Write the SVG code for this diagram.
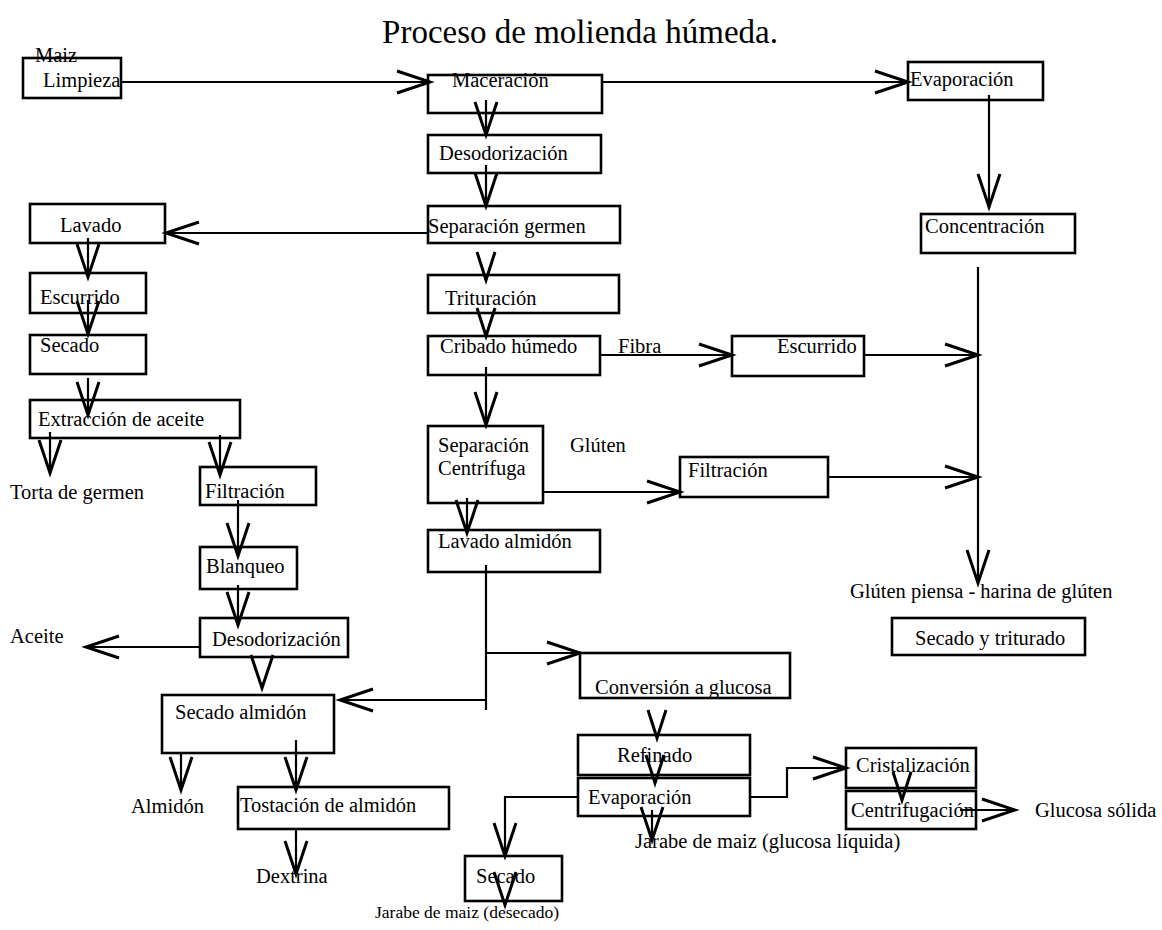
<svg xmlns="http://www.w3.org/2000/svg" width="1162" height="930" viewBox="0 0 1162 930">
<style>
text{font-family:"Liberation Serif","Times New Roman",serif;font-size:20.5px;fill:#000}
.t{font-size:33px}
.sm{font-size:17.5px}
rect{fill:none;stroke:#000;stroke-width:2.6}
.c line,.c path{fill:none;stroke:#000;stroke-width:2.2}
.a{marker-end:url(#ah)}
.s{marker-end:url(#as)}
</style>
<defs>
<marker id="ah" markerUnits="userSpaceOnUse" markerWidth="80" markerHeight="80" refX="0" refY="0" viewBox="-40 -40 80 80" orient="auto" overflow="visible">
<path d="M-33,-11 L0,0 L-33,11" fill="none" stroke="#000" stroke-width="3"/>
</marker>
<marker id="as" markerUnits="userSpaceOnUse" markerWidth="80" markerHeight="80" refX="0" refY="0" viewBox="-40 -40 80 80" orient="auto" overflow="visible">
<path d="M-28,-9 L0,0 L-28,9" fill="none" stroke="#000" stroke-width="3"/>
</marker>
</defs>
<rect x="0" y="0" width="1162" height="930" style="fill:#fff;stroke:none"/>
<text class="t" x="580" y="43" text-anchor="middle">Proceso de molienda húmeda.</text>

<g class="c" id="connectors">
<line class="a" x1="121" y1="82" x2="430" y2="82"/>
<line class="a" x1="602" y1="82" x2="908" y2="82"/>
<line class="a" x1="989" y1="95" x2="989" y2="207"/>
<line class="a" x1="486" y1="100" x2="486" y2="135"/>
<line class="a" x1="486" y1="165" x2="486" y2="206"/>
<line class="a" x1="428" y1="233" x2="166" y2="233"/>
<line class="s" x1="486" y1="277" x2="486" y2="280"/>
<line class="a" x1="88" y1="238" x2="88" y2="277"/>
<line class="a" x1="88" y1="300" x2="88" y2="334"/>
<line class="a" x1="88" y1="378" x2="88" y2="415"/>
<line class="a" x1="50" y1="432" x2="50" y2="473"/>
<line class="a" x1="220" y1="435" x2="220" y2="475"/>
<line class="a" x1="238" y1="500" x2="238" y2="556"/>
<line class="a" x1="238" y1="585" x2="238" y2="625"/>
<line class="a" x1="200" y1="647" x2="86" y2="647"/>
<line class="a" x1="262" y1="686" x2="262" y2="688"/>
<line class="s" x1="486" y1="334" x2="486" y2="336"/>
<line class="a" x1="486" y1="367" x2="486" y2="425"/>
<line class="a" x1="600" y1="355" x2="732" y2="355"/>
<line class="a" x1="864" y1="355" x2="978" y2="355"/>
<line class="a" x1="543" y1="492" x2="680" y2="492"/>
<line class="a" x1="828" y1="477" x2="978" y2="477"/>
<line class="a" x1="978" y1="267" x2="978" y2="583"/>
<line class="a" x1="467" y1="498" x2="467" y2="533"/>
<line x1="486" y1="565" x2="486" y2="710"/>
<line class="a" x1="486" y1="653" x2="580" y2="653"/>
<line class="a" x1="486" y1="700" x2="340" y2="700"/>
<line class="a" x1="181" y1="753" x2="181" y2="790"/>
<line class="a" x1="296" y1="740" x2="296" y2="790"/>
<line class="a" x1="296" y1="830" x2="296" y2="874"/>
<line class="s" x1="657" y1="736" x2="657" y2="738"/>
<line class="s" x1="655" y1="781" x2="655" y2="783"/>
<line class="a" x1="652" y1="810" x2="652" y2="840"/>
<path class="a" d="M578,797 H505 V856"/>
<path class="a" d="M750,797 H787 V768 H846"/>
<line class="s" x1="902" y1="798" x2="902" y2="800"/>
<line class="a" x1="960" y1="810" x2="1015" y2="810"/>
<line class="a" x1="505" y1="903" x2="505" y2="905"/>
</g>

<g id="maiz"><text x="35" y="62">Maiz</text></g>
<g id="limpieza"><rect x="23" y="58" width="98" height="40"/><text x="43" y="87">Limpieza</text></g>
<g id="maceracion"><rect x="428" y="75" width="174" height="38"/><text x="452" y="87">Maceración</text></g>
<g id="evaporacion1"><rect x="908" y="62" width="135" height="38"/><text x="910" y="86">Evaporación</text></g>
<g id="desodorizacion1"><rect x="428" y="135" width="173" height="38"/><text x="439" y="160">Desodorización</text></g>
<g id="separacion-germen"><rect x="428" y="206" width="192" height="37"/><text x="428" y="233">Separación germen</text></g>
<g id="lavado"><rect x="30" y="204" width="135" height="39"/><text x="60" y="232">Lavado</text></g>
<g id="concentracion"><rect x="921" y="214" width="154" height="39"/><text x="925" y="233">Concentración</text></g>
<g id="escurrido1"><rect x="30" y="273" width="116" height="40"/><text x="40" y="304">Escurrido</text></g>
<g id="secado1"><rect x="30" y="335" width="116" height="39"/><text x="40" y="352">Secado</text></g>
<g id="extraccion"><rect x="30" y="400" width="210" height="38"/><text x="38" y="426">Extracción de aceite</text></g>
<g id="torta"><text x="10" y="499">Torta de germen</text></g>
<g id="filtracion1"><rect x="200" y="467" width="116" height="38"/><text x="205" y="498">Filtración</text></g>
<g id="blanqueo"><rect x="200" y="547" width="97" height="42"/><text x="206" y="573">Blanqueo</text></g>
<g id="desodorizacion2"><rect x="200" y="618" width="148" height="39"/><text x="212" y="646">Desodorización</text></g>
<g id="aceite"><text x="10" y="643">Aceite</text></g>
<g id="secado-almidon"><rect x="162" y="695" width="172" height="58"/><text x="175" y="719">Secado almidón</text></g>
<g id="almidon"><text x="131" y="813">Almidón</text></g>
<g id="tostacion"><rect x="238" y="787" width="211" height="42"/><text x="240" y="812">Tostación de almidón</text></g>
<g id="dextrina"><text x="256" y="883">Dextrina</text></g>
<g id="trituracion"><rect x="428" y="275" width="191" height="38"/><text x="445" y="305">Trituración</text></g>
<g id="cribado"><rect x="428" y="336" width="172" height="39"/><text x="440" y="353">Cribado húmedo</text></g>
<g id="fibra"><text x="618" y="353">Fibra</text></g>
<g id="escurrido2"><rect x="732" y="336" width="132" height="40"/><text x="777" y="353">Escurrido</text></g>
<g id="separacion-centrifuga"><rect x="428" y="426" width="115" height="77"/><text x="438" y="452">Separación</text><text x="438" y="475">Centrífuga</text></g>
<g id="gluten"><text x="570" y="452">Glúten</text></g>
<g id="filtracion2"><rect x="680" y="457" width="148" height="40"/><text x="688" y="477">Filtración</text></g>
<g id="lavado-almidon"><rect x="428" y="530" width="172" height="42"/><text x="438" y="548">Lavado almidón</text></g>
<g id="conversion"><rect x="580" y="653" width="210" height="45"/><text x="595" y="694">Conversión a glucosa</text></g>
<g id="gluten-piensa"><text x="850" y="598">Glúten piensa - harina de glúten</text></g>
<g id="secado-triturado"><rect x="892" y="618" width="193" height="37"/><text x="915" y="645">Secado y triturado</text></g>
<g id="refinado"><rect x="578" y="735" width="172" height="40"/><text x="617" y="762">Refinado</text></g>
<g id="evaporacion2"><rect x="578" y="778" width="172" height="38"/><text x="588" y="804">Evaporación</text></g>
<g id="jarabe-liquida"><text x="635" y="848">Jarabe de maiz (glucosa líquida)</text></g>
<g id="secado2"><rect x="465" y="856" width="97" height="45"/><text x="476" y="883">Secado</text></g>
<g id="jarabe-desecado"><text class="sm" x="375" y="918">Jarabe de maiz  (desecado)</text></g>
<g id="cristalizacion"><rect x="846" y="748" width="130" height="40"/><text x="856" y="772">Cristalización</text></g>
<g id="centrifugacion"><rect x="846" y="791" width="130" height="38"/><text x="851" y="817">Centrifugación</text></g>
<g id="glucosa-solida"><text x="1035" y="817">Glucosa sólida</text></g>
</svg>
